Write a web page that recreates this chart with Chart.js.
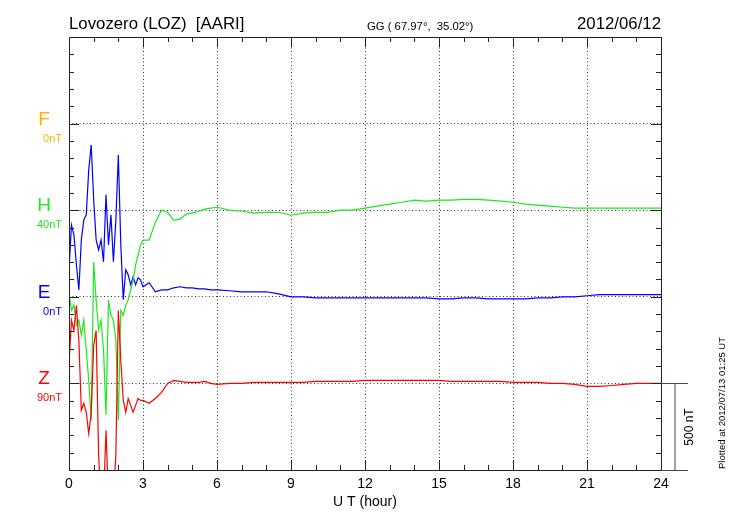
<!DOCTYPE html>
<html>
<head>
<meta charset="utf-8">
<script src="https://cdn.jsdelivr.net/npm/chart.js@4.4.1/dist/chart.umd.min.js"></script>
<style>
  html, body { margin: 0; padding: 0; background: #fff; }
  #wrap { width: 730px; height: 520px; }
</style>
</head>
<body>
<div id="wrap"><canvas id="magChart" width="730" height="520"></canvas></div>
<script>
// UT hours
const times = [0, 0.1, 0.2, 0.3, 0.4, 0.5, 0.6, 0.7, 0.8, 0.9, 1.0, 1.1, 1.2, 1.3, 1.4, 1.5,
  1.6, 1.7, 1.8, 1.9, 2.0, 2.1, 2.2, 2.3, 2.4, 2.5, 2.6, 2.7, 2.8, 2.9, 3.0,
  3.25, 3.5, 3.75, 4.0, 4.25, 4.5, 4.75, 5.0, 5.25, 5.5, 5.75, 6.0,
  6.5, 7, 7.5, 8, 8.5, 9, 9.5, 10, 10.5, 11, 11.5, 12, 12.5, 13, 13.5, 14, 14.5, 15,
  15.5, 16, 16.5, 17, 17.5, 18, 18.5, 19, 19.5, 20, 20.5, 21, 21.5, 22, 22.5, 23, 23.5, 24];

// deviations in nT from each trace's baseline
const hVals = [-473, -577, -548, -664, -635, -721, -635, -808, -981, -1212, -300, -519, -692, -635, -808, -1183,
  -519, -606, -635, -750, -1212, -577, -606, -548, -519, -462, -404, -317, -260, -202, -173,
  -173, -69, 0, -12, -58, -52, -23, -17, -6, 6, 12, 17,
  0, -6, -17, -12, -12, -29, -17, -12, -12, 0, 0, 12, 23, 35, 46, 58, 52, 58,
  58, 63, 63, 58, 52, 46, 35, 29, 23, 17, 12, 12, 12, 12, 12, 12, 12, 12];

const eVals = [156, 415, 358, 185, 40, 329, 444, 473, 733, 877, 560, 329, 271, 329, 202, 589,
  300, 473, 202, 444, 819, 300, -17, 156, 127, 69, 115, 69, 110, 98, 58,
  81, 29, 40, 40, 52, 58, 52, 52, 46, 46, 40, 40,
  35, 29, 29, 29, 17, 0, 0, -6, -6, -6, -6, -6, -6, -6, -6, -6, -6, -12,
  -12, -6, -6, -12, -12, -12, -12, -6, -6, 0, 0, 6, 12, 12, 12, 12, 12, 12];

const zVals = [115, 364, 306, 450, 248, -156, -115, -167, -289, -173, 219, 306, -415, -675, -675, -271,
  -675, -675, -675, -415, 421, 133, -98, -167, -87, -127, -167, -127, -87, -98, -98,
  -115, -87, -52, 0, 17, 12, 6, 6, 6, 12, 0, -6,
  0, 0, 6, 6, 6, 6, 6, 12, 12, 12, 12, 17, 17, 17, 17, 17, 17, 17,
  12, 12, 12, 12, 12, 6, 6, 6, 0, 0, -6, -17, -17, -12, -6, 0, 0, 0];

// component names, baselines (nT on the stacked axis) and offset labels
const comps = ['F', 'H', 'E', 'Z'];
const baselines = [2000, 1500, 1000, 500];
const offsetLabels = ['0nT', '40nT', '0nT', '90nT'];
const compColors = ['#ffb000', '#1ee81e', '#0000ff', '#ff0000'];

const xTicks = [0, 3, 6, 9, 12, 15, 18, 21, 24];

const FONT = "'Liberation Sans', Arial, Helvetica, sans-serif";

function toPoints(vals, base) {
    return vals.map((v, i) => ({ x: times[i], y: base + v }));
}

const framePlugin = {
    id: 'frame',
    afterDatasetsDraw(chart) {
        const ctx = chart.ctx;
        const xs = chart.scales.x;
        const ys = chart.scales.y;
        const a = chart.chartArea;
        ctx.save();
        ctx.strokeStyle = '#222';
        ctx.lineWidth = 1;
        ctx.strokeRect(a.left + 0.5, a.top + 0.5, a.right - a.left, a.bottom - a.top);

        // x ticks, inward, top and bottom
        ctx.beginPath();
        for (let h = 0; h <= 24; h++) {
            const px = Math.round(xs.getPixelForValue(h)) + 0.5;
            const len = h % 3 === 0 ? 10 : 5;
            ctx.moveTo(px, a.bottom); ctx.lineTo(px, a.bottom - len);
            ctx.moveTo(px, a.top); ctx.lineTo(px, a.top + len);
        }
        // y ticks every 100 nT, left and right
        for (let v = 0; v <= 2500; v += 100) {
            const py = Math.round(ys.getPixelForValue(v)) + 0.5;
            const len = v % 500 === 0 ? 10 : 5;
            ctx.moveTo(a.left, py); ctx.lineTo(a.left + len, py);
            ctx.moveTo(a.right, py); ctx.lineTo(a.right - len, py);
        }
        ctx.stroke();

        // scale bar on the right
        const zPx = Math.round(ys.getPixelForValue(baselines[3])) + 0.5;
        const botPx = Math.round(ys.getPixelForValue(0)) + 0.5;
        ctx.strokeStyle = '#444';
        ctx.beginPath();
        ctx.moveTo(a.right, zPx); ctx.lineTo(a.right + 27, zPx);
        ctx.moveTo(a.right + 14, zPx); ctx.lineTo(a.right + 14, botPx);
        ctx.moveTo(a.right, botPx); ctx.lineTo(a.right + 27, botPx);
        ctx.stroke();

        ctx.fillStyle = '#000';
        ctx.save();
        ctx.translate(a.right + 32, (zPx + botPx) / 2);
        ctx.rotate(-Math.PI / 2);
        ctx.textAlign = 'center';
        ctx.textBaseline = 'alphabetic';
        ctx.font = '12px ' + FONT;
        ctx.fillText('500 nT', 0, 0);
        ctx.restore();

        ctx.save();
        ctx.translate(725, 403);
        ctx.rotate(-Math.PI / 2);
        ctx.textAlign = 'center';
        ctx.font = '9.5px ' + FONT;
        ctx.fillText('Plotted at 2012/07/13 01:25 UT', 0, 0);
        ctx.restore();

        // component labels on the left
        comps.forEach((c, i) => {
            const py = ys.getPixelForValue(baselines[i]);
            ctx.fillStyle = compColors[i];
            ctx.textAlign = 'center';
            ctx.font = '19px ' + FONT;
            ctx.fillText(c, 44, py + 1);
            ctx.textAlign = 'right';
            ctx.font = '11px ' + FONT;
            ctx.fillText(offsetLabels[i], 62, py + 18);
        });

        // header
        ctx.fillStyle = '#000';
        ctx.textAlign = 'left';
        ctx.font = '16.8px ' + FONT;
        ctx.fillText('Lovozero (LOZ)  [AARI]', a.left, 29);
        ctx.textAlign = 'right';
        ctx.fillText('2012/06/12', a.right, 29);
        ctx.textAlign = 'left';
        ctx.font = '11.3px ' + FONT;
        ctx.fillText('GG ( 67.97\u00b0,  35.02\u00b0)', 367, 30);
        ctx.restore();
    }
};

const ctx = document.getElementById('magChart').getContext('2d');

const magChart = new Chart(ctx, {
    type: 'line',
    data: {
        datasets: [
            { label: 'Z', data: toPoints(zVals, baselines[3]), borderColor: compColors[3] },
            { label: 'H', data: toPoints(hVals, baselines[1]), borderColor: compColors[1] },
            { label: 'E', data: toPoints(eVals, baselines[2]), borderColor: compColors[2] }
        ]
    },
    plugins: [framePlugin],
    options: {
        responsive: false,
        animation: false,
        devicePixelRatio: 1,
        layout: { padding: { top: 37, right: 69, left: 0, bottom: 0 } },
        elements: {
            point: { radius: 0 },
            line: { borderWidth: 1.2, tension: 0, fill: false }
        },
        plugins: {
            legend: { display: false },
            tooltip: { enabled: false }
        },
        scales: {
            x: {
                type: 'linear',
                min: 0,
                max: 24,
                afterBuildTicks: s => { s.ticks = xTicks.map(v => ({ value: v })); },
                afterFit: s => { s.height = 50; },
                ticks: { color: '#000', font: { family: FONT, size: 14 }, padding: 6, maxRotation: 0 },
                grid: {
                    drawTicks: false,
                    color: c => (c.tick && c.tick.value > 0 && c.tick.value < 24) ? '#333' : 'rgba(0,0,0,0)',
                    lineWidth: 1
                },
                border: { display: false, dash: [1, 2.5] },
                title: {
                    display: true,
                    text: 'U T (hour)',
                    color: '#000',
                    font: { family: FONT, size: 14 },
                    padding: { top: 0, bottom: 9 }
                }
            },
            y: {
                type: 'linear',
                min: 0,
                max: 2500,
                afterFit: s => { s.width = 69; },
                ticks: { display: false, stepSize: 500 },
                grid: {
                    drawTicks: false,
                    color: c => (c.tick && c.tick.value > 0 && c.tick.value < 2500) ? '#333' : 'rgba(0,0,0,0)',
                    lineWidth: 1
                },
                border: { display: false, dash: [1, 2.5] }
            }
        }
    }
});
</script>
</body>
</html>
